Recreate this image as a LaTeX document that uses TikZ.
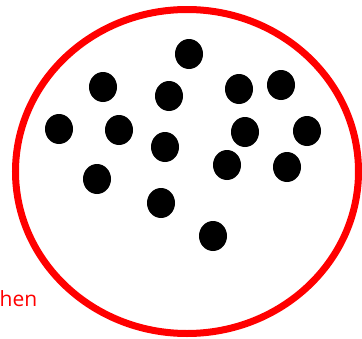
\documentclass[tikz,border=0pt]{standalone}
\usepackage{fontspec}
\setmainfont{Open Sans}
\usetikzlibrary{shapes.geometric}
\definecolor{pured}{RGB}{255,0,0}
\begin{document}
\begin{tikzpicture}[x=1pt,y=-1pt,
  blackdot/.style={ellipse,fill=black,inner sep=0pt,minimum width=28pt,minimum height=30pt}]
\useasboundingbox (0,0) rectangle (362,338);
\clip (0,0) rectangle (362,338);
\draw[pured,line width=7pt] (187,171.5) ellipse [x radius=171.5, y radius=162];
\foreach \n/\x/\y in {a/189/54,b/103/87,c/169/96,d/239/89,e/281/85,f/59/129,g/119/130,h/165/147,i/245/132,j/307/131,k/227/165,l/287/167,m/97/179,n/161/203,o/213/236}{
  \node[blackdot] (\n) at (\x,\y) {};
}
\node[anchor=base east,text=pured,font=\fontsize{21}{24}\selectfont,inner sep=0pt] (lbl) at (37.5,306) {hen};
\end{tikzpicture}
\end{document}
